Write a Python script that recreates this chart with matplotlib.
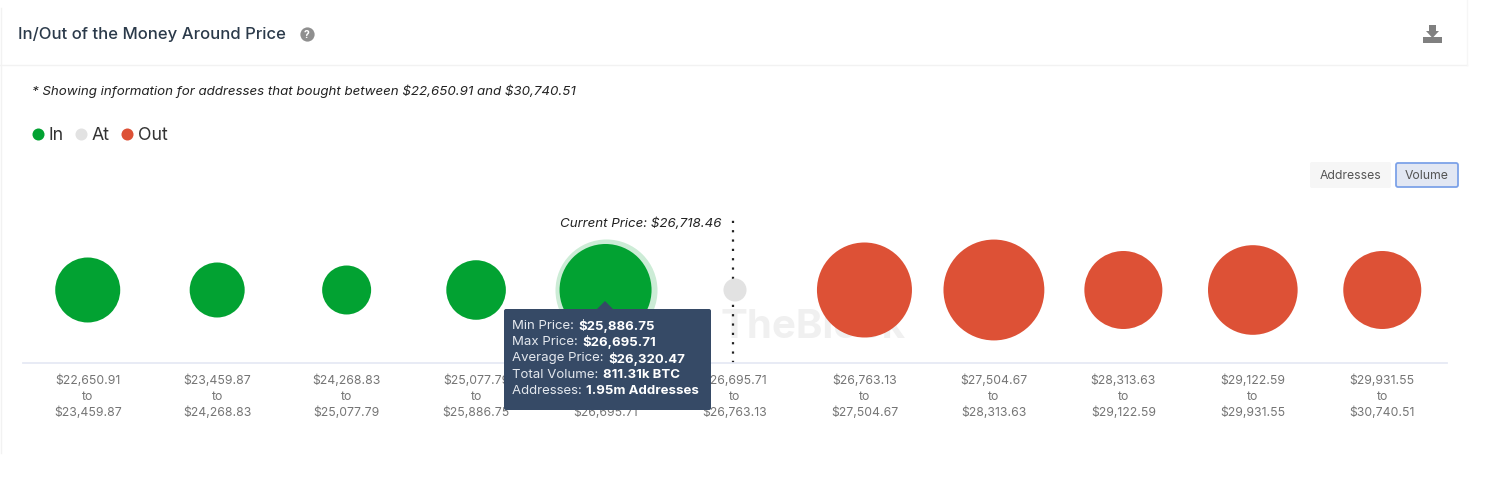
import matplotlib
matplotlib.use('Agg')
import matplotlib.pyplot as plt
from matplotlib.patches import FancyBboxPatch, Polygon, Rectangle

plt.rcParams['font.family'] = ['Inter', 'DejaVu Sans']
plt.rcParams['text.parse_math'] = False

# price bins, thousands of BTC per bin (811.31k is given)
bin_low = ['$22,650.91', '$23,459.87', '$24,268.83', '$25,077.79', '$25,886.75', '$26,695.71',
           '$26,763.13', '$27,504.67', '$28,313.63', '$29,122.59', '$29,931.55']
bin_high = ['$23,459.87', '$24,268.83', '$25,077.79', '$25,886.75', '$26,695.71', '$26,763.13',
            '$27,504.67', '$28,313.63', '$29,122.59', '$29,931.55', '$30,740.51']
volume = [405, 290, 230, 340, 811.31, 51, 865, 975, 583, 770, 583]
status = ['In', 'In', 'In', 'In', 'In', 'At', 'Out', 'Out', 'Out', 'Out', 'Out']
colors = {'In': '#02a232', 'At': '#e2e2e2', 'Out': '#dd5136'}
current_pos = 4.985
hover = 4

tooltip_rows = [('Min Price: ', '$25,886.75'), ('Max Price: ', '$26,695.71'),
                ('Average Price: ', '$26,320.47'), ('Total Volume: ', '811.31k BTC'),
                ('Addresses: ', '1.95m Addresses')]

fig = plt.figure(figsize=(15.04, 4.82), dpi=100)

# overlay in pixel coordinates for the card furniture
bg = fig.add_axes([0, 0, 1, 1], zorder=0)
bg.set_xlim(0, 1504)
bg.set_ylim(482, 0)
bg.axis('off')
bg.plot([0, 1467], [65, 65], color='#f2f2f2', lw=1)
bg.plot([1467, 1467], [0, 65], color='#f6f6f6', lw=1)
bg.plot([1, 1], [8, 453], color='#f2f2f2', lw=1)
bg.text(18, 34.5, 'In/Out of the Money Around Price', fontsize=12, fontweight='medium',
        color='#2b3a4a', va='center')
bg.scatter([307], [34], s=105, color='#8f8f8f', linewidths=0)
bg.text(307, 34.5, '?', fontsize=7.5, fontweight='bold', color='white', ha='center', va='center')
bg.text(32, 91, '* Showing information for addresses that bought between $22,650.91 and $30,740.51',
        fontsize=9.6, style='italic', color='#222222', va='center')

# legend
for lx, tx, name in [(38, 48, 'In'), (81, 92, 'At'), (127, 138, 'Out')]:
    bg.scatter([lx], [133.5], s=75, color=colors[name], linewidths=0)
    bg.text(tx, 135, name, fontsize=12.8, color='#333333', va='center')

# download icon
bg.add_patch(Polygon([[1429, 25], [1436, 25], [1436, 31], [1439, 31], [1432.5, 38], [1426, 31], [1429, 31]],
                     color='#808080', lw=0))
bg.add_patch(Rectangle((1423, 37), 19, 6, color='#808080', lw=0))

# toggle buttons
bg.add_patch(FancyBboxPatch((1310, 162), 81, 26, boxstyle='round,pad=0,rounding_size=2',
                            fc='#f6f6f6', ec='none'))
bg.add_patch(FancyBboxPatch((1396, 163), 62, 24, boxstyle='round,pad=0,rounding_size=2',
                            fc='#e2e7f3', ec='#7da2e8', lw=1.3))
bg.text(1350.5, 176, 'Addresses', fontsize=8.8, color='#555555', ha='center', va='center')
bg.text(1427, 176, 'Volume', fontsize=8.8, color='#555555', ha='center', va='center')

# watermark
bg.text(720, 328, 'TheBlock', fontsize=29, fontweight='bold', color='#f0f0f0', va='center')

# chart axes: category positions 0..10 span 23-1447 px, baseline at y=363
ax = fig.add_axes([23 / 1504, (482 - 363) / 482, 1424 / 1504, 148 / 482], zorder=1)
ax.patch.set_alpha(0)
ax.set_xlim(-0.5, 10.5)
ax.set_ylim(-73, 75)
for side in ['top', 'left', 'right']:
    ax.spines[side].set_visible(False)
ax.spines['bottom'].set_color('#e6e9f5')
ax.spines['bottom'].set_linewidth(1.3)
ax.set_yticks([])

k = 5.41  # points^2 per thousand BTC
xs = list(range(len(volume)))
ax.scatter([hover], [0], s=volume[hover] * k * 1.23, color=colors['In'], alpha=0.2, linewidths=0, clip_on=False)
ax.scatter(xs, [0] * len(xs), s=[v * k for v in volume], c=[colors[s] for s in status],
           linewidths=0, clip_on=False, zorder=3)

ax.set_xticks(xs)
ax.set_xticklabels([f'{a}\nto\n{b}' for a, b in zip(bin_low, bin_high)], fontsize=8.8,
                   color='#757575', linespacing=1.44)
ax.tick_params(axis='x', length=0, pad=8)

ax.plot([current_pos, current_pos], [-73, 75], color='#222222', lw=1.6, linestyle=(0, (1, 3.2)), zorder=2)
ax.annotate('Current Price: $26,718.46', (current_pos, 66), xytext=(-12, 0), textcoords='offset pixels',
            ha='right', va='center', fontsize=9.6, style='italic', color='#222222')

# tooltip on top of everything
top = fig.add_axes([0, 0, 1, 1], zorder=2)
top.set_xlim(0, 1504)
top.set_ylim(482, 0)
top.axis('off')
top.add_patch(FancyBboxPatch((504, 309), 207, 101, boxstyle='round,pad=0,rounding_size=2',
                             fc='#364a66', ec='none'))
top.add_patch(Polygon([[597, 309], [605, 301], [613, 309]], fc='#364a66', ec='none'))
fig.canvas.draw()
rend = fig.canvas.get_renderer()
for i, (label, val) in enumerate(tooltip_rows):
    y = 326 + i * 16.25
    t = top.text(512, y, label, fontsize=9.5, color='#e4e8ee', va='center')
    x1 = t.get_window_extent(rend).x1
    top.text(x1 + 1, y, val, fontsize=9.5, fontweight='bold', color='white', va='center')

fig.savefig('out.png', dpi=100)
